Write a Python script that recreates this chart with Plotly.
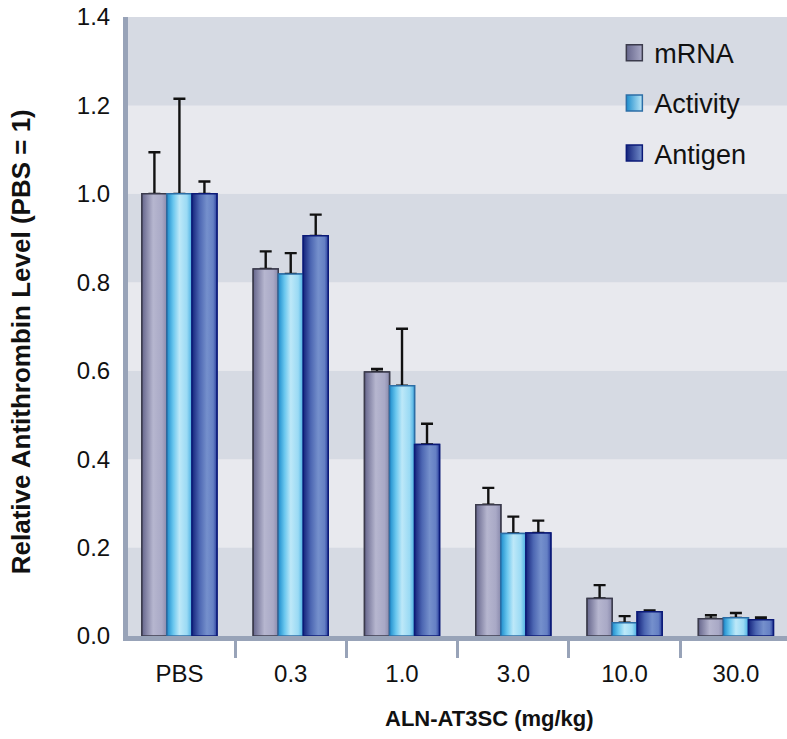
import plotly.graph_objects as go

# Dose groups and measured levels (relative to PBS = 1)
doses = ["PBS", "0.3", "1.0", "3.0", "10.0", "30.0"]
mrna = [1.0, 0.830, 0.597, 0.297, 0.085, 0.039]
mrna_err = [0.094, 0.040, 0.007, 0.038, 0.030, 0.008]
activity = [1.0, 0.819, 0.566, 0.232, 0.030, 0.041]
activity_err = [0.215, 0.047, 0.129, 0.038, 0.015, 0.011]
antigen = [1.0, 0.905, 0.433, 0.233, 0.055, 0.037]
antigen_err = [0.028, 0.048, 0.047, 0.028, 0.003, 0.005]

series = [
    dict(name="mRNA", y=mrna, err=mrna_err, line="#3b3b4c", mid="#a3a3c0",
         scale=[[0, "#66668c"], [0.45, "#b6b6cf"], [0.8, "#a9a9c6"], [1, "#8a8aac"]]),
    dict(name="Activity", y=activity, err=activity_err, line="#2c6ea6", mid="#8fd3f2",
         scale=[[0, "#1d8ccc"], [0.25, "#68c6ee"], [0.5, "#bde8f8"], [0.8, "#9adaf4"], [1, "#49aee2"]]),
    dict(name="Antigen", y=antigen, err=antigen_err, line="#0b1a78", mid="#6a86c6",
         scale=[[0, "#14237c"], [0.3, "#4c66b2"], [0.6, "#7590cc"], [0.85, "#6580c4"], [1, "#2e43a0"]]),
]

FONT = "Liberation Sans, Arial, sans-serif"
AXIS_COLOR = "#98a3b8"
BAND_DARK = "#d6dae3"
BAND_LIGHT = "#e8e9ee"

group_width = 0.674
bar_w = group_width / len(series)
xpos = list(range(len(doses)))

fig = go.Figure()

# Base bars with error bars
for k, s in enumerate(series):
    fig.add_trace(go.Bar(
        x=xpos, y=s["y"], name=s["name"], showlegend=False,
        marker=dict(color=s["mid"], line=dict(color=s["line"], width=1.5)),
        error_y=dict(type="data", array=s["err"], arrayminus=[0] * len(doses),
                     symmetric=False, color="#111111", thickness=2.4, width=6),
    ))

# Horizontal gradient shading on every bar
for k, s in enumerate(series):
    for i, v in zip(xpos, s["y"]):
        c = i + (k - 1) * bar_w
        x0, x1 = c - bar_w / 2, c + bar_w / 2
        fig.add_trace(go.Scatter(
            x=[x0, x0, x1, x1, x0], y=[0, v, v, 0, 0],
            mode="lines", fill="toself",
            fillgradient=dict(type="horizontal", colorscale=s["scale"]),
            line=dict(color=s["line"], width=1.5),
            showlegend=False, hoverinfo="skip",
        ))

# Legend entries
for k, s in enumerate(series):
    fig.add_trace(go.Scatter(
        x=[None], y=[None], mode="markers", name=s["name"],
        legendgroup=s["name"], showlegend=True,
        marker=dict(symbol="square", size=19, color=s["scale"][0][1],
                    gradient=dict(type="horizontal", color=s["scale"][2][1]),
                    line=dict(color=s["line"], width=1.5)),
    ))

# Alternating horizontal background bands
shapes = []
for j in range(7):
    shapes.append(dict(type="rect", xref="paper", yref="y", x0=0, x1=1,
                       y0=0.2 * j, y1=0.2 * (j + 1), layer="below", line=dict(width=0),
                       fillcolor=BAND_DARK if j % 2 == 0 else BAND_LIGHT))

fig.update_layout(
    width=787, height=739,
    margin=dict(l=128, r=0, t=17, b=103),
    paper_bgcolor="white", plot_bgcolor=BAND_LIGHT,
    barmode="group", bargap=1 - group_width, bargroupgap=0,
    shapes=shapes,
    font=dict(family=FONT, color="#111111"),
    legend=dict(x=0.738, y=0.981, xanchor="left", yanchor="top",
                bgcolor="rgba(0,0,0,0)", font=dict(size=27, family=FONT),
                tracegroupgap=12, itemsizing="trace"),
    xaxis=dict(
        range=[-0.462, 5.459], tickmode="array", tickvals=xpos, ticktext=doses,
        ticks="", showgrid=False, zeroline=False,
        showline=True, linewidth=5, linecolor=AXIS_COLOR,
        tickfont=dict(size=24, family=FONT), ticklabelstandoff=12,
        minor=dict(tickmode="array", tickvals=[i + 0.5 for i in xpos[:-1]],
                   ticks="outside", ticklen=17, tickwidth=3, tickcolor=AXIS_COLOR,
                   showgrid=False),
    ),
    yaxis=dict(
        range=[0, 1.4], tickmode="array", tickvals=[0.2 * j for j in range(8)],
        tickformat=".1f", ticks="", showgrid=False, zeroline=False,
        showline=True, linewidth=5, linecolor=AXIS_COLOR,
        tickfont=dict(size=24, family=FONT), ticklabelstandoff=8,
    ),
    annotations=[
        dict(text="<b>ALN-AT3SC (mg/kg)</b>", xref="paper", yref="paper",
             x=(489.5 - 128) / 659, y=-0.133, xanchor="center", yanchor="middle",
             showarrow=False, font=dict(size=22, family=FONT, color="#111111")),
        dict(text="<b>Relative Antithrombin Level (PBS = 1)</b>", xref="paper", yref="paper",
             x=-0.162, y=0.475, xanchor="center", yanchor="middle", textangle=-90,
             showarrow=False, font=dict(size=26, family=FONT, color="#111111")),
    ],
)

fig.write_html("out.html")
